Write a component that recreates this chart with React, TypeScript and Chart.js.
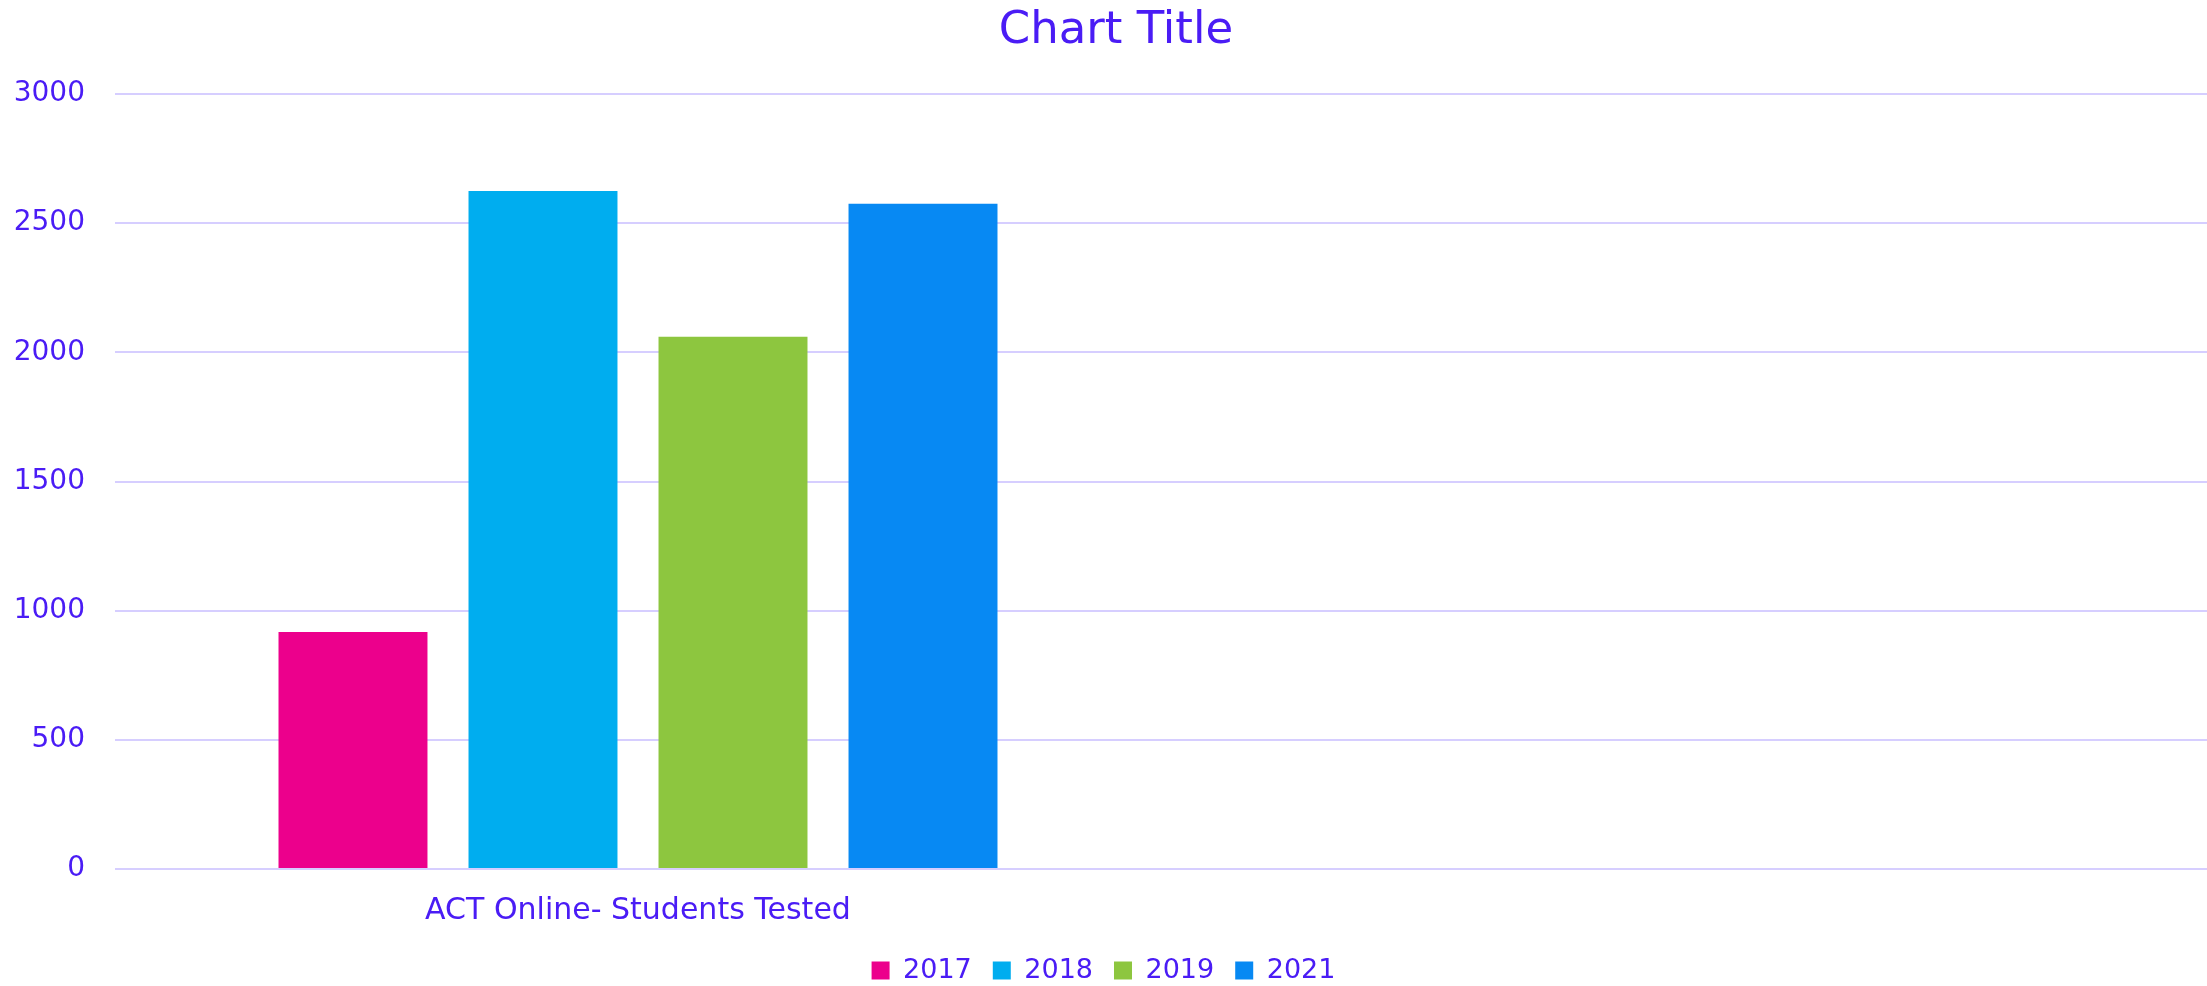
import React, { useEffect, useRef } from "react";
import { Chart, registerables } from "chart.js";

Chart.register(...registerables);

const categories = ["ACT Online- Students Tested", ""];
const seriesLabels = ["2017", "2018", "2019", "2021"];
const values2017 = [917, null];
const values2018 = [2625, null];
const values2019 = [2060, null];
const values2021 = [2575, null];
const seriesColors = ["#EC008C", "#00ADEF", "#8DC63F", "#0789F3"];
const yTicks = [0, 500, 1000, 1500, 2000, 2500, 3000];

const TEXT = "#4A1CF5";
const GRID = "rgb(214,206,255)";
const FONT = "'DejaVu Sans', sans-serif";

const titleShift = {
  id: "titleShift",
  afterLayout(chart: any) {
    const t = chart.titleBlock;
    if (t) {
      t.left = 25;
      t.width = t.right - t.left;
    }
  },
};

export default function App() {
  const ref = useRef<HTMLCanvasElement | null>(null);

  useEffect(() => {
    if (!ref.current) return;
    const seriesValues = [values2017, values2018, values2019, values2021];
    const chart = new Chart(ref.current, {
      type: "bar",
      data: {
        labels: categories,
        datasets: seriesLabels.map((label, i) => ({
          label,
          data: seriesValues[i],
          backgroundColor: seriesColors[i],
          borderWidth: 0,
          categoryPercentage: 0.7266,
          barPercentage: 0.784,
        })),
      },
      plugins: [titleShift],
      options: {
        responsive: false,
        animation: false,
        layout: { padding: { left: 0, right: 0, top: 0, bottom: -8 } },
        plugins: {
          title: {
            display: true,
            text: "Chart Title",
            color: TEXT,
            font: { family: FONT, size: 45, weight: "normal" },
            padding: { top: 4, bottom: 36 },
          },
          legend: {
            display: true,
            position: "bottom",
            labels: {
              color: TEXT,
              font: { family: FONT, size: 27 },
              boxWidth: 18,
              boxHeight: 18,
              padding: 21,
            },
          },
          tooltip: { enabled: false },
        },
        scales: {
          x: {
            grid: { display: false, drawTicks: false },
            border: { display: false },
            ticks: {
              color: TEXT,
              font: { family: FONT, size: 30 },
              padding: 24,
              maxRotation: 0,
              autoSkip: false,
            },
            afterFit: (scale: any) => {
              scale.height = 67;
            },
          },
          y: {
            min: 0,
            max: 3000,
            afterBuildTicks: (scale: any) => {
              scale.ticks = yTicks.map((v) => ({ value: v }));
            },
            grid: { color: GRID, lineWidth: 2, drawTicks: false },
            border: { display: false },
            ticks: {
              color: TEXT,
              font: { family: FONT, size: 28 },
              padding: 30,
              callback: (v: any) => String(v),
            },
            afterFit: (scale: any) => {
              scale.width = 115;
            },
          },
        },
      },
    });
    return () => chart.destroy();
  }, []);

  return (
    <div style={{ position: "absolute", left: 0, top: 0, width: 2207, height: 986, background: "#fff" }}>
      <canvas ref={ref} width={2207} height={986} style={{ display: "block", width: 2207, height: 986 }} />
    </div>
  );
}
